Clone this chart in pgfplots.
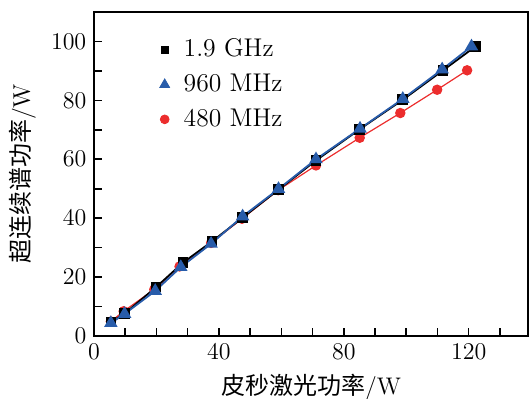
\documentclass[border=0pt]{standalone}
\usepackage{fontspec}
\usepackage{pgfplots}
\pgfplotsset{compat=1.18}
\newfontfamily\cjk{Noto Sans CJK SC}
\definecolor{myblue}{RGB}{40,92,170}
\definecolor{myred}{RGB}{236,45,45}
\begin{document}
\fontsize{11}{13}\selectfont
\begin{tikzpicture}
\begin{axis}[
  name=ax,
  scale only axis,
  width=217pt, height=162pt,
  xmin=0, xmax=139, ymin=0, ymax=110,
  xtick={0,40,80,120}, minor xtick={10,20,30,50,60,70,90,100,110,130},
  ytick={0,20,...,100}, minor ytick={10,30,50,70,90},
  tick pos=left, tick align=inside,
  major tick length=4pt, minor tick length=4pt,
  every tick/.style={black, line width=0.8pt},
  axis line style={line width=1pt},
  tick label style={font=\fontsize{11.5}{13}\selectfont},
  xlabel={\cjk 皮秒激光功率\rmfamily/W},
  ylabel={\cjk 超连续谱功率\rmfamily/W},
  label style={font=\fontsize{12}{14}\selectfont},
  legend style={at={(0.137,0.943)}, anchor=north west, draw=none, fill=none,
    font=\fontsize{12.8}{15}\selectfont, row sep=3pt},
  legend cell align=left,
  legend image code/.code={\draw[#1] plot coordinates {(0pt,0pt)}; \path[draw=none,fill=none] (0pt,0pt) rectangle (7.5pt,0.1pt);},
]
\addplot[myred, line width=0.6pt, mark=*, mark size=2.3pt, forget plot] coordinates {
(5.4,4.9) (9.5,8.4) (19.3,15.8) (27.4,23.6) (37.5,31.6) (47.4,39.8) (59.0,49.5) (71.1,57.9) (85.1,67.3) (98.1,75.7) (109.9,83.6) (119.5,90.2)};
\addplot[black, line width=0.9pt, mark=square*, mark size=2.2pt, forget plot] coordinates {
(5.4,4.7) (9.8,7.6) (19.9,16.6) (28.5,24.9) (37.8,32.1) (47.6,40.2) (59.1,49.7) (71.1,59.6) (85.1,70.2) (98.9,80.2) (111.8,90.2) (122.2,98.3)};
\addplot[myblue, line width=0.9pt, mark=triangle*, mark size=3pt, forget plot] coordinates {
(5.4,4.4) (9.8,7.5) (19.6,15.3) (27.8,23.4) (37.5,31.3) (47.6,40.6) (59.1,49.9) (71.1,60.0) (85.2,70.4) (98.9,80.5) (111.5,90.5) (120.9,98.3)};
\addlegendimage{black, only marks, mark=square*, mark size=1.8pt}
\addlegendentry{1.9 GHz}
\addlegendimage{myblue, only marks, mark=triangle*, mark size=2.8pt}
\addlegendentry{960 MHz}
\addlegendimage{myred, only marks, mark=*, mark size=2.2pt}
\addlegendentry{480 MHz}
\end{axis}
\pgfresetboundingbox
\path ([xshift=-47pt,yshift=-31.5pt]ax.south west) rectangle ([xshift=0.5pt,yshift=6pt]ax.north east);
\end{tikzpicture}
\end{document}
